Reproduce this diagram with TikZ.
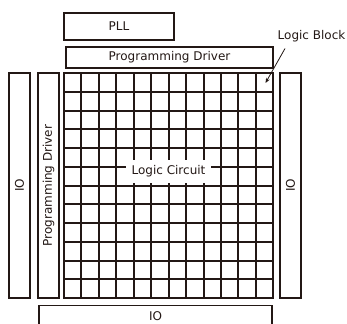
\documentclass[tikz,border=0pt]{standalone}
\usepackage{fontspec}
\setmainfont{DejaVu Sans}
\usetikzlibrary{arrows.meta}
\definecolor{ink}{HTML}{231815}

\begin{document}
\begin{tikzpicture}[x=1pt,y=-1pt,color=ink,line width=1.3pt,
        box/.style={draw,rectangle,inner sep=0pt,font=\fontsize{12}{14}\selectfont}]
        \clip (0,0) rectangle (347,323);

        % blocks round the array
        \node[box,minimum width=110,minimum height=27] (pll) at (119,26.5) {PLL};
        \node[box,minimum width=207,minimum height=21] (topdrv) at (169.5,57.5) {Programming Driver};
        \node[box,rotate=90,minimum width=225,minimum height=21] (leftio) at (19.5,185.5) {IO};
        \node[box,rotate=90,minimum width=225,minimum height=21] (leftdrv) at (48.5,185.5) {Programming Driver};
        \node[box,rotate=90,minimum width=225,minimum height=21] (rightio) at (290.5,185.5) {IO};
        \node[box,minimum width=233,minimum height=21] (botio) at (155.5,316) {IO};

        % the 12 x 12 array of logic blocks
        \node[draw,rectangle,inner sep=0pt,minimum width=209,minimum height=225] (array) at (168.5,185.5) {};
        \foreach \gx/\gy in {81/92,99/111,116/129,134/148,151/167,169/186,186/204,204/223,221/242,238/261,256/279} {
            \draw (\gx,73) -- (\gx,298);
            \draw (64,\gy) -- (273,\gy);
        }

        \node[fill=white,inner xsep=6pt,inner ysep=0pt,minimum height=23,font=\fontsize{12}{14}\selectfont] (circuit) at (168.5,171.5) {Logic Circuit};

        \node[inner sep=0pt,font=\fontsize{12}{14}\selectfont] (blocklabel) at (311.5,36) {Logic Block};
        \coordinate (tip) at (265.5,83);
        \draw[line width=0.8pt,-{Stealth[length=5pt,width=4pt]}] ([shift={(8,6)}]blocklabel.south west) -- (tip);
    \end{tikzpicture}
\end{document}
